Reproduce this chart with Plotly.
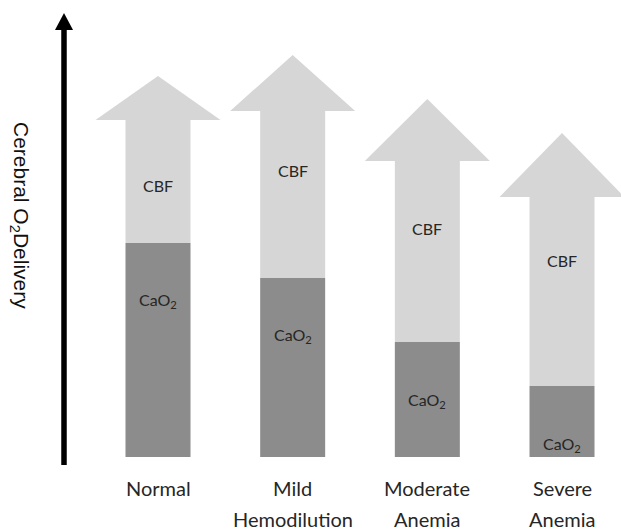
import plotly.graph_objects as go

# ---- data (arbitrary delivery units, baseline = 0) ----
categories = ["Normal", "Mild Hemodilution", "Moderate Anemia", "Severe Anemia"]
cao2 = [214, 179, 115, 71]            # CaO2 component
cbf_top = [337, 346, 296, 260]        # top of CBF shaft (base of arrow head)
arrow_tip = [381, 402, 358, 324]      # tip of arrow
cbf_label_y = [272, 287, 229, 197]
cao2_label_y = [157, 122, 57, 13]

LIGHT = "#d6d6d6"
DARK = "#8c8c8c"
TEXT = "#262626"

W, H = 621, 531
PX = 134.67                     # pixels per category step
XMIN = -158 / PX
XMAX = XMIN + W / PX
BAR_W = 65 / PX
HEAD_HW = 62.5 / PX

idx = list(range(len(categories)))

fig = go.Figure()

# CaO2 (dark) bars
fig.add_trace(go.Bar(x=idx, y=cao2, width=BAR_W, marker_color=DARK,
                     marker_line_width=0, hoverinfo="skip"))
# CBF shaft (light) bars
fig.add_trace(go.Bar(x=idx, y=[t - c for t, c in zip(cbf_top, cao2)], base=cao2,
                     width=BAR_W, marker_color=LIGHT, marker_line_width=0,
                     hoverinfo="skip"))
# arrow heads
for i, (b, t) in enumerate(zip(cbf_top, arrow_tip)):
    fig.add_trace(go.Scatter(x=[i - HEAD_HW, i, i + HEAD_HW, i - HEAD_HW],
                             y=[b, t, b, b], mode="lines", fill="toself",
                             fillcolor=LIGHT, line=dict(width=0, color=LIGHT),
                             hoverinfo="skip"))

ann = []
for i in idx:
    ann.append(dict(x=i, y=cbf_label_y[i], text="CBF", showarrow=False,
                    font=dict(family="Lato", size=16, color=TEXT)))
    ann.append(dict(x=i, y=cao2_label_y[i], text="CaO<sub>2</sub>", showarrow=False,
                    font=dict(family="Lato", size=16, color=TEXT)))
    words = categories[i].split(" ", 1)
    ann.append(dict(x=i, y=-31, text=words[0], showarrow=False,
                    font=dict(family="Lato", size=20, color=TEXT)))
    if len(words) > 1:
        ann.append(dict(x=i, y=-62, text=words[1], showarrow=False,
                        font=dict(family="Lato", size=20, color=TEXT)))

ax_x = XMIN + 64 / PX
ann.append(dict(x=XMIN + 20 / PX, y=242, text="Cerebral O<sub>2</sub>Delivery",
                textangle=90, showarrow=False,
                font=dict(family="Liberation Sans", size=21, color="#111111")))

shapes = [
    dict(type="line", x0=ax_x, x1=ax_x, y0=-8, y1=428,
         line=dict(color="black", width=5.5)),
    dict(type="path",
         path=f"M {ax_x - 9 / PX} 427 L {ax_x} 444 L {ax_x + 9 / PX} 427 Z",
         fillcolor="black", line=dict(width=0)),
]

fig.update_layout(
    width=W, height=H, margin=dict(l=0, r=0, t=0, b=0),
    paper_bgcolor="white", plot_bgcolor="white",
    barmode="overlay", showlegend=False,
    xaxis=dict(range=[XMIN, XMAX], visible=False, fixedrange=True),
    yaxis=dict(range=[-74, 457], visible=False, fixedrange=True),
    annotations=ann, shapes=shapes,
)

fig.write_html("out.html", config=dict(displayModeBar=False),
               post_script="document.body.style.margin='0';")
